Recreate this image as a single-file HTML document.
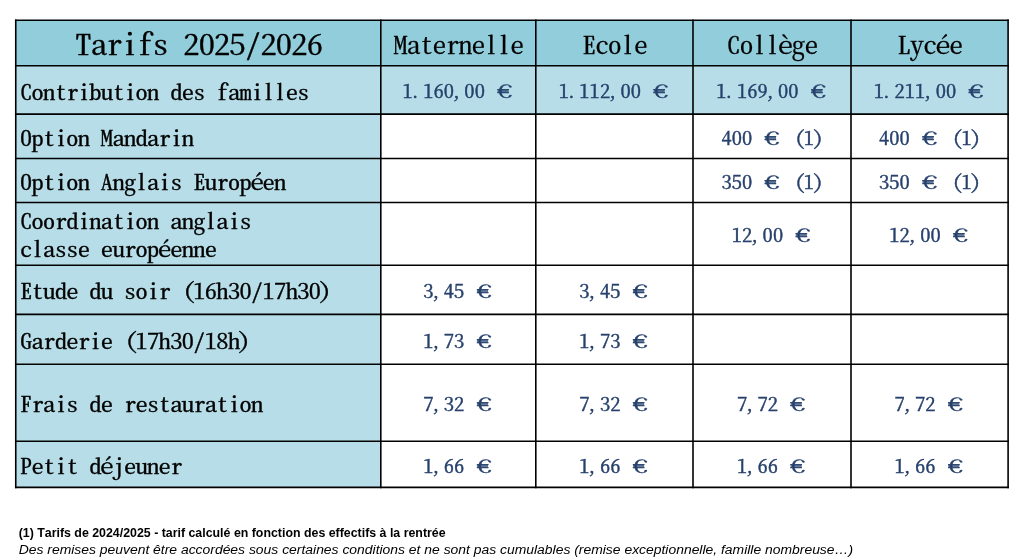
<!DOCTYPE html>
<html lang="fr"><head><meta charset="utf-8"><title>Tarifs 2025/2026</title>
<style>
html,body{margin:0;padding:0;background:#fff;}
body{width:1024px;height:560px;overflow:hidden;position:relative;}
svg{position:absolute;left:0;top:0;display:block;}
text{font-family:"Noto Serif CJK SC","Liberation Mono",monospace;font-feature-settings:"hwid";font-kerning:none;white-space:pre;fill:#000;}
text{stroke:#000;stroke-width:0.35px;}
.h{stroke-width:0.25px;}
.n{fill:#26406C;stroke:#26406C;stroke-width:0.4px;}
.b{fill:#26406C;}
.e{font-feature-settings:normal;font-weight:400;text-anchor:middle;stroke-width:0.35px;}
.f1,.f2{font-family:"Liberation Sans",sans-serif;font-feature-settings:normal;stroke:none;}
.f1{font-weight:bold;font-size:12.5px;}
.f2{font-style:italic;font-size:12.5px;}
</style></head><body>
<svg width="1024" height="560" viewBox="0 0 1024 560">
<rect x="15.75" y="20.3" width="992.35" height="45.4" fill="#92CDDC"/>
<rect x="15.75" y="65.7" width="992.35" height="48.45" fill="#B7DEE8"/>
<rect x="15.75" y="114.15" width="365.05" height="373.25" fill="#B7DEE8"/>
<g stroke="#000" stroke-width="1.6" fill="none" stroke-linecap="square">
<line x1="15.75" y1="20.3" x2="1008.1" y2="20.3"/>
<line x1="15.75" y1="65.7" x2="1008.1" y2="65.7"/>
<line x1="15.75" y1="114.15" x2="1008.1" y2="114.15"/>
<line x1="15.75" y1="158.5" x2="1008.1" y2="158.5"/>
<line x1="15.75" y1="202.5" x2="1008.1" y2="202.5"/>
<line x1="15.75" y1="265.2" x2="1008.1" y2="265.2"/>
<line x1="15.75" y1="314.4" x2="1008.1" y2="314.4"/>
<line x1="15.75" y1="364.3" x2="1008.1" y2="364.3"/>
<line x1="15.75" y1="441.3" x2="1008.1" y2="441.3"/>
<line x1="15.75" y1="487.4" x2="1008.1" y2="487.4"/>
<line x1="15.75" y1="20.3" x2="15.75" y2="487.4"/>
<line x1="380.8" y1="20.3" x2="380.8" y2="487.4"/>
<line x1="535.8" y1="20.3" x2="535.8" y2="487.4"/>
<line x1="693" y1="20.3" x2="693" y2="487.4"/>
<line x1="851" y1="20.3" x2="851" y2="487.4"/>
<line x1="1008.1" y1="20.3" x2="1008.1" y2="487.4"/>
</g>
<text class="t" xml:space="preserve" font-size="28.39" transform="translate(0 55) scale(1.14 1)" x="66.02 79.55 93.09 106.62 120.16 133.69 147.23 160.76 174.3 187.83 201.37 214.9 228.44 241.97 255.51 269.04" y="0">Tarifs 2025/2026</text>
<text class="h" xml:space="preserve" font-size="23.83" transform="translate(0 54) scale(1.14 1)" x="345.38 356.74 368.1 379.46 390.82 402.18 413.54 424.9 436.26 447.62" y="0">Maternelle</text>
<text class="h" xml:space="preserve" font-size="23.83" transform="translate(0 54) scale(1.14 1)" x="510.71 522.07 533.43 544.79 556.15" y="0">Ecole</text>
<text class="h" xml:space="preserve" font-size="23.83" transform="translate(0 54) scale(1.14 1)" x="637.6 648.96 660.31 671.67 682.47 694.39 705.75" y="0">Collège</text>
<text class="h" xml:space="preserve" font-size="23.83" transform="translate(0 54) scale(1.14 1)" x="787.16 798.52 809.88 820.68 832.6" y="0">Lycée</text>
<text class="l" xml:space="preserve" font-size="21.25" transform="translate(0 100) scale(1.14 1)" x="17.56 27.69 37.82 47.95 58.09 68.22 78.35 88.48 98.61 108.74 118.88 129.01 139.14 149.27 159.4 169.53 179.67 189.8 199.93 210.06 220.19 230.32 240.45 250.59 260.72" y="0">Contribution des familles</text>
<text class="n" xml:space="preserve" font-size="18.95" transform="translate(0 98) scale(1.08 1)" x="372.76 379.72 391.84 401.37 410.91 417.87 429.98 439.52 449.06" y="0">1.160,00 </text>
<text class="n e" font-size="18.64" transform="translate(504.65 98) scale(1.45 1)" x="0" y="0">€</text>
<rect class="b" x="497.54" y="90.3" width="11.11" height="1.4"/>
<text class="n" xml:space="preserve" font-size="18.95" transform="translate(0 98) scale(1.08 1)" x="517.3 524.26 536.37 545.91 555.45 562.41 574.52 584.06 593.6" y="0">1.112,00 </text>
<text class="n e" font-size="18.64" transform="translate(660.75 98) scale(1.45 1)" x="0" y="0">€</text>
<rect class="b" x="653.64" y="90.3" width="11.11" height="1.4"/>
<text class="n" xml:space="preserve" font-size="18.95" transform="translate(0 98) scale(1.08 1)" x="663.22 670.19 682.3 691.84 701.37 708.34 720.45 729.98 739.52" y="0">1.169,00 </text>
<text class="n e" font-size="18.64" transform="translate(818.35 98) scale(1.45 1)" x="0" y="0">€</text>
<rect class="b" x="811.24" y="90.3" width="11.11" height="1.4"/>
<text class="n" xml:space="preserve" font-size="18.95" transform="translate(0 98) scale(1.08 1)" x="809.1 816.07 828.18 837.72 847.25 854.21 866.33 875.86 885.4" y="0">1.211,00 </text>
<text class="n e" font-size="18.64" transform="translate(975.9 98) scale(1.45 1)" x="0" y="0">€</text>
<rect class="b" x="968.79" y="90.3" width="11.11" height="1.4"/>
<text class="l" xml:space="preserve" font-size="21.25" transform="translate(0 146) scale(1.14 1)" x="17.56 27.69 37.82 47.95 58.09 68.22 78.35 88.48 98.61 108.74 118.88 129.01 139.14 149.27 159.4" y="0">Option Mandarin</text>
<text class="n" xml:space="preserve" font-size="18.95" transform="translate(0 145) scale(1.08 1)" x="667.99 677.53 687.07 696.6" y="0">400 </text>
<text class="n e" font-size="18.64" transform="translate(772 145) scale(1.45 1)" x="0" y="0">€</text>
<rect class="b" x="764.89" y="137.3" width="11.11" height="1.4"/>
<text class="n" xml:space="preserve" font-size="18.95" transform="translate(0 145) scale(1.08 1)" x="725.22 735.9 744.29 752.68" y="0"> (1)</text>
<text class="n" xml:space="preserve" font-size="18.95" transform="translate(0 145) scale(1.08 1)" x="813.87 823.41 832.95 842.48" y="0">400 </text>
<text class="n e" font-size="18.64" transform="translate(929.55 145) scale(1.45 1)" x="0" y="0">€</text>
<rect class="b" x="922.44" y="137.3" width="11.11" height="1.4"/>
<text class="n" xml:space="preserve" font-size="18.95" transform="translate(0 145) scale(1.08 1)" x="871.1 881.78 890.17 898.56" y="0"> (1)</text>
<text class="l" xml:space="preserve" font-size="21.25" transform="translate(0 190) scale(1.14 1)" x="17.56 27.69 37.82 47.95 58.09 68.22 78.35 88.48 98.61 108.74 118.88 129.01 139.14 149.27 159.4 169.53 179.67 189.8 199.93 210.06 219.69 230.32 240.45" y="0">Option Anglais Européen</text>
<text class="n" xml:space="preserve" font-size="18.95" transform="translate(0 189) scale(1.08 1)" x="667.99 677.53 687.07 696.6" y="0">350 </text>
<text class="n e" font-size="18.64" transform="translate(772 189) scale(1.45 1)" x="0" y="0">€</text>
<rect class="b" x="764.89" y="181.3" width="11.11" height="1.4"/>
<text class="n" xml:space="preserve" font-size="18.95" transform="translate(0 189) scale(1.08 1)" x="725.22 735.9 744.29 752.68" y="0"> (1)</text>
<text class="n" xml:space="preserve" font-size="18.95" transform="translate(0 189) scale(1.08 1)" x="813.87 823.41 832.95 842.48" y="0">350 </text>
<text class="n e" font-size="18.64" transform="translate(929.55 189) scale(1.45 1)" x="0" y="0">€</text>
<rect class="b" x="922.44" y="181.3" width="11.11" height="1.4"/>
<text class="n" xml:space="preserve" font-size="18.95" transform="translate(0 189) scale(1.08 1)" x="871.1 881.78 890.17 898.56" y="0"> (1)</text>
<text class="l" xml:space="preserve" font-size="21.25" transform="translate(0 229) scale(1.14 1)" x="17.56 27.69 37.82 47.95 58.09 68.22 78.35 88.48 98.61 108.74 118.88 129.01 139.14 149.27 159.4 169.53 179.67 189.8 199.93 210.06" y="0">Coordination anglais</text>
<text class="l" xml:space="preserve" font-size="21.25" transform="translate(0 257) scale(1.14 1)" x="17.56 27.69 37.82 47.95 58.09 68.22 78.35 88.48 98.61 108.74 118.88 129.01 138.64 149.27 159.4 169.53 179.67" y="0">classe européenne</text>
<text class="n" xml:space="preserve" font-size="18.95" transform="translate(0 242) scale(1.08 1)" x="677.53 687.07 694.03 706.14 715.68 725.22" y="0">12,00 </text>
<text class="n e" font-size="18.64" transform="translate(802.9 242) scale(1.45 1)" x="0" y="0">€</text>
<rect class="b" x="795.79" y="234.3" width="11.11" height="1.4"/>
<text class="n" xml:space="preserve" font-size="18.95" transform="translate(0 242) scale(1.08 1)" x="823.41 832.95 839.91 852.02 861.56 871.1" y="0">12,00 </text>
<text class="n e" font-size="18.64" transform="translate(960.45 242) scale(1.45 1)" x="0" y="0">€</text>
<rect class="b" x="953.34" y="234.3" width="11.11" height="1.4"/>
<text class="l" xml:space="preserve" font-size="21.25" transform="translate(0 299) scale(1.14 1)" x="17.56 27.69 37.82 47.95 58.09 68.22 78.35 88.48 98.61 108.74 118.88 129.01 139.14 149.27 160.62 169.53 179.67 189.8 199.93 210.06 220.19 230.32 240.45 250.59 260.72 270.85 279.77" y="0">Etude du soir (16h30/17h30)</text>
<text class="n" xml:space="preserve" font-size="18.95" transform="translate(0 298) scale(1.08 1)" x="391.84 398.8 410.91 420.45 429.98" y="0">3,45 </text>
<text class="n e" font-size="18.64" transform="translate(484.05 298) scale(1.45 1)" x="0" y="0">€</text>
<rect class="b" x="476.94" y="290.3" width="11.11" height="1.4"/>
<text class="n" xml:space="preserve" font-size="18.95" transform="translate(0 298) scale(1.08 1)" x="536.37 543.34 555.45 564.98 574.52" y="0">3,45 </text>
<text class="n e" font-size="18.64" transform="translate(640.15 298) scale(1.45 1)" x="0" y="0">€</text>
<rect class="b" x="633.04" y="290.3" width="11.11" height="1.4"/>
<text class="l" xml:space="preserve" font-size="21.25" transform="translate(0 349) scale(1.14 1)" x="17.56 27.69 37.82 47.95 58.09 68.22 78.35 88.48 98.61 109.96 118.88 129.01 139.14 149.27 159.4 169.53 179.67 189.8 199.93 208.84" y="0">Garderie (17h30/18h)</text>
<text class="n" xml:space="preserve" font-size="18.95" transform="translate(0 348) scale(1.08 1)" x="391.84 398.8 410.91 420.45 429.98" y="0">1,73 </text>
<text class="n e" font-size="18.64" transform="translate(484.05 348) scale(1.45 1)" x="0" y="0">€</text>
<rect class="b" x="476.94" y="340.3" width="11.11" height="1.4"/>
<text class="n" xml:space="preserve" font-size="18.95" transform="translate(0 348) scale(1.08 1)" x="536.37 543.34 555.45 564.98 574.52" y="0">1,73 </text>
<text class="n e" font-size="18.64" transform="translate(640.15 348) scale(1.45 1)" x="0" y="0">€</text>
<rect class="b" x="633.04" y="340.3" width="11.11" height="1.4"/>
<text class="l" xml:space="preserve" font-size="21.25" transform="translate(0 412) scale(1.14 1)" x="17.56 27.69 37.82 47.95 58.09 68.22 78.35 88.48 98.61 108.74 118.88 129.01 139.14 149.27 159.4 169.53 179.67 189.8 199.93 210.06 220.19" y="0">Frais de restauration</text>
<text class="n" xml:space="preserve" font-size="18.95" transform="translate(0 411) scale(1.08 1)" x="391.84 398.8 410.91 420.45 429.98" y="0">7,32 </text>
<text class="n e" font-size="18.64" transform="translate(484.05 411) scale(1.45 1)" x="0" y="0">€</text>
<rect class="b" x="476.94" y="403.3" width="11.11" height="1.4"/>
<text class="n" xml:space="preserve" font-size="18.95" transform="translate(0 411) scale(1.08 1)" x="536.37 543.34 555.45 564.98 574.52" y="0">7,32 </text>
<text class="n e" font-size="18.64" transform="translate(640.15 411) scale(1.45 1)" x="0" y="0">€</text>
<rect class="b" x="633.04" y="403.3" width="11.11" height="1.4"/>
<text class="n" xml:space="preserve" font-size="18.95" transform="translate(0 411) scale(1.08 1)" x="682.3 689.26 701.37 710.91 720.45" y="0">7,72 </text>
<text class="n e" font-size="18.64" transform="translate(797.75 411) scale(1.45 1)" x="0" y="0">€</text>
<rect class="b" x="790.64" y="403.3" width="11.11" height="1.4"/>
<text class="n" xml:space="preserve" font-size="18.95" transform="translate(0 411) scale(1.08 1)" x="828.18 835.14 847.25 856.79 866.33" y="0">7,72 </text>
<text class="n e" font-size="18.64" transform="translate(955.3 411) scale(1.45 1)" x="0" y="0">€</text>
<rect class="b" x="948.19" y="403.3" width="11.11" height="1.4"/>
<text class="l" xml:space="preserve" font-size="21.25" transform="translate(0 474) scale(1.14 1)" x="17.56 27.69 37.82 47.95 58.09 68.22 78.35 87.98 98.61 108.74 118.88 129.01 139.14 149.27" y="0">Petit déjeuner</text>
<text class="n" xml:space="preserve" font-size="18.95" transform="translate(0 473) scale(1.08 1)" x="391.84 398.8 410.91 420.45 429.98" y="0">1,66 </text>
<text class="n e" font-size="18.64" transform="translate(484.05 473) scale(1.45 1)" x="0" y="0">€</text>
<rect class="b" x="476.94" y="465.3" width="11.11" height="1.4"/>
<text class="n" xml:space="preserve" font-size="18.95" transform="translate(0 473) scale(1.08 1)" x="536.37 543.34 555.45 564.98 574.52" y="0">1,66 </text>
<text class="n e" font-size="18.64" transform="translate(640.15 473) scale(1.45 1)" x="0" y="0">€</text>
<rect class="b" x="633.04" y="465.3" width="11.11" height="1.4"/>
<text class="n" xml:space="preserve" font-size="18.95" transform="translate(0 473) scale(1.08 1)" x="682.3 689.26 701.37 710.91 720.45" y="0">1,66 </text>
<text class="n e" font-size="18.64" transform="translate(797.75 473) scale(1.45 1)" x="0" y="0">€</text>
<rect class="b" x="790.64" y="465.3" width="11.11" height="1.4"/>
<text class="n" xml:space="preserve" font-size="18.95" transform="translate(0 473) scale(1.08 1)" x="828.18 835.14 847.25 856.79 866.33" y="0">1,66 </text>
<text class="n e" font-size="18.64" transform="translate(955.3 473) scale(1.45 1)" x="0" y="0">€</text>
<rect class="b" x="948.19" y="465.3" width="11.11" height="1.4"/>
<text class="f1" x="18.7" y="537" textLength="426.9" lengthAdjust="spacingAndGlyphs">(1) Tarifs de 2024/2025 - tarif calculé en fonction des effectifs à la rentrée</text>
<text class="f2" x="18.7" y="554" textLength="834.4" lengthAdjust="spacingAndGlyphs">Des remises peuvent être accordées sous certaines conditions et ne sont pas cumulables (remise exceptionnelle, famille nombreuse…)</text>
</svg>
</body></html>
